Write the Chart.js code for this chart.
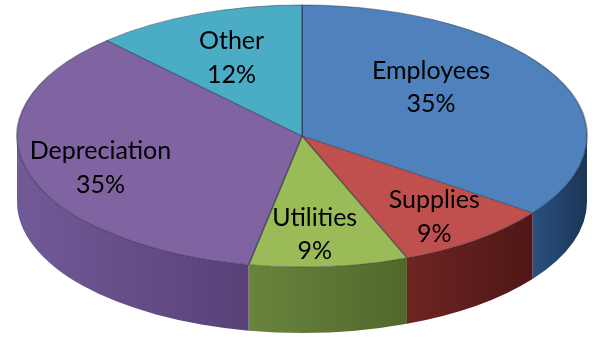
<!DOCTYPE html>
<html>
<head>
<meta charset="utf-8">
<script src="https://cdn.jsdelivr.net/npm/chart.js@4/dist/chart.umd.min.js"></script>
<style>
html,body{margin:0;padding:0;background:#fff;}
canvas{display:block;}
</style>
</head>
<body>
<canvas id="c" width="592" height="339"></canvas>
<script>
const categories = ['Employees', 'Supplies', 'Utilities', 'Depreciation', 'Other'];
const values = [35, 9, 9, 35, 12];
const percentLabels = ['35%', '9%', '9%', '35%', '12%'];

const topColors = ['#4F81BD', '#C0504D', '#9BBB59', '#8064A2', '#4BACC6'];
const sideLight = ['#2A5080', '#6E2422', '#6A843C', '#725A98', '#357F93'];
const sideDark  = ['#1B3656', '#4E1716', '#52672C', '#584177', '#24606F'];

const T = {cx: 302, cy: 136, rx: 285, ry: 131, depth: 66};
const labelFactor = [0.5, 0.7, 0.7, 0.7, 0.7];
const labelDx = [2, 10, -6, -10, 3];
const labelDy = [-19, 8, 7, 6, 7];

const pie3d = {
  id: 'pie3d',
  beforeDatasetsDraw(chart) {
    const ctx = chart.ctx;
    const meta = chart.getDatasetMeta(0);
    const a0 = meta.data[0];
    const R = a0.outerRadius;
    ctx.save();
    ctx.translate(T.cx, T.cy);
    ctx.scale(T.rx / R, T.ry / R);
    ctx.translate(-a0.x, -a0.y);
    const d = T.depth * R / T.ry;
    meta.data.forEach((arc, i) => {
      const s = arc.startAngle, e = arc.endAngle;
      for (let k = -1; k <= 1; k++) {
        const lo = Math.max(s, 2 * Math.PI * k);
        const hi = Math.min(e, Math.PI + 2 * Math.PI * k);
        if (hi <= lo) continue;
        const x1 = arc.x + Math.cos(lo) * R, x2 = arc.x + Math.cos(hi) * R;
        const g = ctx.createLinearGradient(Math.max(x1, x2), 0, Math.min(x1, x2), 0);
        g.addColorStop(0, sideDark[i]);
        g.addColorStop(1, sideLight[i]);
        ctx.beginPath();
        ctx.arc(arc.x, arc.y, R, lo, hi);
        ctx.arc(arc.x, arc.y + d, R, hi, lo, true);
        ctx.closePath();
        ctx.fillStyle = g;
        ctx.fill();
      }
    });
  },
  afterDatasetsDraw(chart) {
    chart.ctx.restore();
  },
  afterDraw(chart) {
    const ctx = chart.ctx;
    const meta = chart.getDatasetMeta(0);
    ctx.save();
    ctx.fillStyle = '#000';
    ctx.font = '25px Lato, "Open Sans", sans-serif';
    ctx.textAlign = 'center';
    ctx.textBaseline = 'middle';
    meta.data.forEach((arc, i) => {
      const mid = (arc.startAngle + arc.endAngle) / 2;
      const f = labelFactor[i];
      const px = T.cx + Math.cos(mid) * f * T.rx + labelDx[i];
      const py = T.cy + Math.sin(mid) * f * T.ry + labelDy[i];
      ctx.fillText(categories[i], px, py - 16.5);
      ctx.fillText(percentLabels[i], px, py + 17);
    });
    ctx.restore();
  }
};

new Chart(document.getElementById('c'), {
  type: 'pie',
  data: {
    labels: categories,
    datasets: [{
      data: values,
      backgroundColor: topColors,
      borderColor: 'rgba(30,40,60,0.45)',
      borderWidth: 1,
      clip: false
    }]
  },
  options: {
    responsive: false,
    devicePixelRatio: 1,
    animation: false,
    layout: {padding: 0},
    plugins: {legend: {display: false}, tooltip: {enabled: false}}
  },
  plugins: [pie3d]
});
</script>
</body>
</html>
